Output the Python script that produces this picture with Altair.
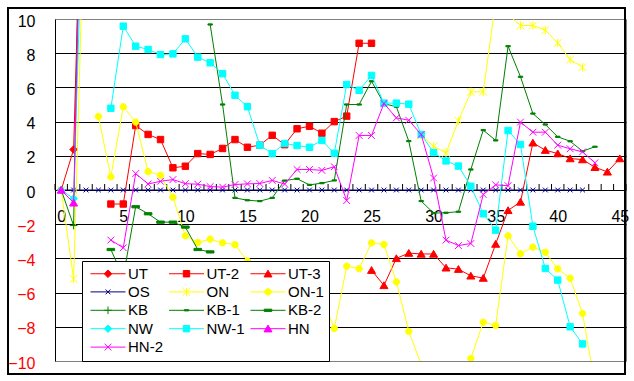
import altair as alt
import pandas as pd

# ---------------- data ----------------
X = list(range(46))  # categories 0..45
SERIES = ["UT", "UT-2", "UT-3", "OS", "ON", "ON-1", "KB", "KB-1", "KB-2",
          "NW", "NW-1", "HN", "HN-2"]
COLORS = ["#FF0000", "#FF0000", "#FF0000", "#000080", "#FFFF00", "#FFFF00",
          "#008000", "#008000", "#008000", "#00FFFF", "#00FFFF", "#FF00FF", "#FF00FF"]


def pad(start, vals):
    return [None] * start + vals + [None] * (46 - start - len(vals))


UT = pad(0, [0, 2.37, 27.8])
UT_2 = pad(4, [-0.82, -0.82, 3.77, 3.25, 2.95, 1.3, 1.39, 2.13, 2.08, 2.43, 2.95,
               2.5, 2.62, 3.2, 2.65, 3.58, 3.73, 3.32, 4.0, 4.32, 8.58, 8.58])
UT_3 = pad(25, [-4.69, -5.58, -4.0, -3.69, -3.74, -3.74, -4.55, -4.63, -5.02, -5.15,
                -3.16, -1.19, -0.7, 2.76, 2.33, 2.13, 1.84, 1.78, 1.33, 1.06, 1.84])
OS = pad(0, [0] * 43)
ON = pad(0, [0, -5.2, 20.0] + [None] * 26 +
         [3.2, 2.55, 2.17, 4.05, 5.74, 5.74, 11.0, 10.25, 9.62, 9.62, 9.35, 8.6, 7.63, 7.18])
ON_1 = pad(3, [4.3, 0.77, 4.87, 3.97, 1.08, 0.86, -0.42, -2.68, -3.07, -2.87, -3.09,
               -3.2, -4.15, -5.0, -5.6, -6.0, -6.4, -6.0, -6.3, -8.1, -4.46, -4.6,
               -3.09, -3.19, -5.37, -8.27, -10.2, -12.5, -13.0, -12.0, -9.85, -7.73,
               -7.92, -2.68, -3.73, -3.34, -3.64, -4.61, -5.16, -7.22, -11.4])
KB = pad(0, [0, -2.08, 38.0])
KB_1 = pad(12, [9.68, 5.0, -0.46, -0.6, -0.65, -0.46, 0.55, 0.66, 0.3, 0.4, 0.56,
                5.0, 5.0, 6.36, 5.05, 4.87, 2.86, -0.65, -1.35, -1.33, -1.27, 1.2,
                3.5, 2.9, 8.41, 6.62, 4.47, 3.83, 3.11, 2.85, 2.27, 2.53])
KB_2 = pad(4, [-3.48, -5.1, -0.98, -1.39, -1.88, -1.88, -2.17, -3.48, -3.62])
NW = pad(0, [0, -0.5, 22.8])
NW_1 = pad(4, [4.78, 9.58, 8.41, 8.22, 7.92, 7.96, 8.84, 7.77, 7.44, 6.8, 5.54, 4.87,
               2.62, 2.13, 2.72, 2.6, 2.5, 2.9, 2.15, 6.17, 5.83, 6.7, 5.08, 5.08,
               5.02, 3.25, 2.19, 1.7, 1.4, 0.22, -1.39, -2.35, 3.48, 2.66, -2.12,
               -4.59, -5.27, -8.0, -9.0])
HN = pad(0, [0, -0.75, 30.0])
HN_2 = pad(4, [-2.93, -3.38, 0.96, 0.35, 0.51, 0.61, 0.37, 0.34, 0.2, 0.17, 0.32,
               0.36, 0.38, 0.56, 0.35, 1.2, 1.2, 1.15, 1.36, -0.62, 3.19, 3.19, 5.06,
               4.22, 4.08, 3.25, 0.7, -2.93, -3.25, -3.13, -0.26, 0.3, 0.25, 3.97,
               3.38, 3.38, 2.62, 2.41, 2.23, 1.59])

VALUES = [UT, UT_2, UT_3, OS, ON, ON_1, KB, KB_1, KB_2, NW, NW_1, HN, HN_2]

X_LABELS = list(range(0, 46, 5))
Y_TICKS = list(range(-10, 11, 2))
CATEGORY_EDGES = [i - 0.5 for i in range(47)]


# ---------------- marker shapes (unit paths, 4px per unit at size 64) ----------------
def f(v):
    return f"{v:.3f}".rstrip("0").rstrip(".")


def diamond(c=0.0, s=0.95):
    return f"M{f(c)},{f(-s)}L{f(c+s)},0L{f(c)},{f(s)}L{f(c-s)},0Z"


def square(c=0.0, s=0.8):
    return f"M{f(c-s)},{f(-s)}H{f(c+s)}V{f(s)}H{f(c-s)}Z"


def triangle(c=0.0):
    return f"M{f(c)},-0.9L{f(c+1.0)},0.8H{f(c-1.0)}Z"


def circle(c=0.0, r=0.8):
    return (f"M{f(c+r)},0A{f(r)},{f(r)},0,1,1,{f(c-r)},0"
            f"A{f(r)},{f(r)},0,1,1,{f(c+r)},0Z")


def xmark(c=0.0, s=0.85):
    return f"M{f(c-s)},{f(-s)}L{f(c+s)},{f(s)}M{f(c-s)},{f(s)}L{f(c+s)},{f(-s)}"


def star(c=0.0, s=0.95):
    return xmark(c, s) + f"M{f(c)},{f(-s*1.1)}V{f(s*1.1)}"


def plus(c=0.0, s=0.95):
    return f"M{f(c-s)},0H{f(c+s)}M{f(c)},{f(-s)}V{f(s)}"


def dash(c=0.0, w=0.55, h=0.15):
    return f"M{f(c-w)},{f(-h)}H{f(c+w)}V{f(h)}H{f(c-w)}Z"


MARKERS = [
    lambda c=0.0: diamond(c),
    lambda c=0.0: square(c),
    lambda c=0.0: triangle(c),
    lambda c=0.0: xmark(c, 0.6),
    lambda c=0.0: star(c),
    lambda c=0.0: circle(c),
    lambda c=0.0: plus(c),
    lambda c=0.0: dash(c, 0.55, 0.15),
    lambda c=0.0: dash(c, 0.95, 0.28),
    lambda c=0.0: diamond(c),
    lambda c=0.0: square(c),
    lambda c=0.0: triangle(c),
    lambda c=0.0: xmark(c, 0.85),
]
LEGEND_PATHS = ["M-1,0H7.75" + m(3.375) for m in MARKERS]

# ---------------- build table ----------------
rows = []
for name, vals in zip(SERIES, VALUES):
    seg, gap = 0, True
    for x, v in zip(X, vals):
        if v is None:
            gap = True
            continue
        if gap:
            seg += 1
            gap = False
        rows.append({"x": x, "y": v, "series": name, "seg": f"{name}_{seg}"})
df = pd.DataFrame(rows)

FONT = "Liberation Sans"
xs = alt.Scale(domain=[-0.5, 45.5], nice=False, zero=False)
ys = alt.Scale(domain=[-10, 10], nice=False, zero=False)
xaxis = alt.Axis(values=X_LABELS, ticks=False, tickSize=0, domain=False, grid=False,
                 offset=-171, labelPadding=18, labelFont=FONT, labelFontSize=16,
                 labelColor="black", labelFlush=False, labelOverlap=False, title=None)
yaxis = alt.Axis(values=Y_TICKS, ticks=False, tickSize=0, domain=True,
                 domainColor="black", domainWidth=1, grid=True, gridColor="black",
                 gridWidth=1,
                 gridOpacity={"condition": {"test": "abs(datum.value) == 10", "value": 0},
                              "value": 1},
                 labelPadding=20, labelFont=FONT, labelFontSize=16, labelOffset=2,
                 labelColor={"condition": {"test": "datum.value < 0", "value": "#FF0000"},
                             "value": "black"},
                 format="d", title=None)

X_ENC = alt.X("x:Q", scale=xs, axis=xaxis)
Y_ENC = alt.Y("y:Q", scale=ys, axis=yaxis)

# category tick marks on the zero line (pointing up)
ticks = alt.Chart(pd.DataFrame({"x": CATEGORY_EDGES})).mark_rule(
    color="black", strokeWidth=1).encode(
    x=X_ENC, y=alt.Y(datum=0, scale=ys, axis=yaxis), y2=alt.Y2(datum=0.35))

layers = [ticks]
for name, color, mk in zip(SERIES, COLORS, MARKERS):
    d = df[df.series == name]
    base = alt.Chart(d)
    layers.append(base.mark_line(color=color, strokeWidth=1, clip=True).encode(
        x=X_ENC, y=Y_ENC, detail="seg:N", order="x:Q"))
    layers.append(base.mark_point(shape=mk(), size=64, filled=True, fill=color,
                                  stroke=color, strokeWidth=1, opacity=1,
                                  clip=True).encode(x=X_ENC, y=Y_ENC))

leg = alt.Legend(title=None, orient="none", legendX=27, legendY=242, columns=3,
                 direction="horizontal",
                 symbolSize=64, symbolStrokeWidth=1, labelFont=FONT, labelFontSize=15,
                 labelColor="black", labelOffset=26, padding=5, fillColor="white",
                 strokeColor="black", rowPadding=2.4, columnPadding=1.5,
                 symbolLimit=0, labelLimit=0, gridAlign="each")
legend_layer = alt.Chart(pd.DataFrame({"series": SERIES})).mark_point(
    filled=True, opacity=1, size=64, strokeWidth=1).encode(
    fill=alt.Fill("series:N", sort=SERIES,
                  scale=alt.Scale(domain=SERIES, range=COLORS), legend=leg),
    stroke=alt.Stroke("series:N", sort=SERIES,
                      scale=alt.Scale(domain=SERIES, range=COLORS), legend=leg),
    shape=alt.Shape("series:N", sort=SERIES,
                    scale=alt.Scale(domain=SERIES, range=LEGEND_PATHS), legend=leg),
).transform_filter("false")
layers.append(legend_layer)

# chart-area border
frame = alt.Chart(pd.DataFrame({"k": [0]})).mark_rect(
    fillOpacity=0, stroke="black", strokeWidth=2, clip=False).encode(
    x=alt.value(-47), x2=alt.value(570), y=alt.value(-11), y2=alt.value(355))
layers.append(frame)

chart = alt.layer(*layers).properties(
    width=571, height=342,
    autosize=alt.AutoSizeParams(type="none"),
    padding={"left": 55, "top": 19, "right": 8, "bottom": 20},
    background="white",
).configure_view(fill="#C0C0C0", stroke="#808080", strokeWidth=1)

chart.save("out.html", embed_options={"renderer": "svg", "actions": False})
